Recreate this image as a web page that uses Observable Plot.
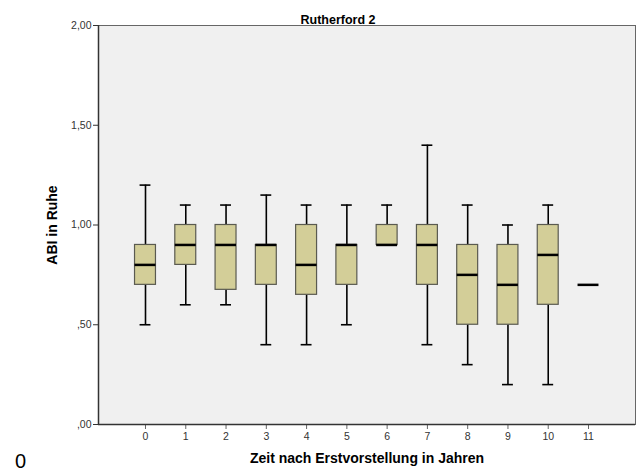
<!DOCTYPE html>
<html>
<head>
<meta charset="utf-8">
<script src="https://cdn.jsdelivr.net/npm/d3@7"></script>
<script src="https://cdn.jsdelivr.net/npm/@observablehq/plot@0.6"></script>
<style>
  html, body { margin: 0; padding: 0; background: #fff; }
  #wrap { position: relative; width: 641px; height: 471px; overflow: hidden; font-family: "Liberation Sans", Arial, sans-serif; }
  #corner { position: absolute; left: 15px; top: 451px; font-size: 20px; color: #000; font-family: "Liberation Sans", Arial, sans-serif; line-height: 1; }
</style>
</head>
<body>
<div id="wrap"><div id="corner">0</div></div>
<script>
const years       = [0, 1, 2, 3, 4, 5, 6, 7, 8, 9, 10, 11];
const whiskerLow  = [0.50, 0.60, 0.60, 0.40, 0.40, 0.50, 0.90, 0.40, 0.30, 0.20, 0.20, 0.70];
const q1          = [0.70, 0.80, 0.675, 0.70, 0.65, 0.70, 0.90, 0.70, 0.50, 0.50, 0.60, 0.70];
const median      = [0.80, 0.90, 0.90, 0.90, 0.80, 0.90, 0.90, 0.90, 0.75, 0.70, 0.85, 0.70];
const q3          = [0.90, 1.00, 1.00, 0.90, 1.00, 0.90, 1.00, 1.00, 0.90, 0.90, 1.00, 0.70];
const whiskerHigh = [1.20, 1.10, 1.10, 1.15, 1.10, 1.10, 1.10, 1.40, 1.10, 1.00, 1.10, 0.70];
const yTicks      = [0, 0.5, 1, 1.5, 2];

const data = years.map((t, i) => ({
  t, lo: whiskerLow[i], q1: q1[i], med: median[i], q3: q3[i], hi: whiskerHigh[i]
}));

const boxHalf = 0.26;
const capHalf = 0.135;
const fmtY = v => d3.format(".2f")(v).replace(".", ",").replace(/^0,/, ",");

const chart = Plot.plot({
  width: 641,
  height: 471,
  marginLeft: 98,
  marginRight: 6,
  marginTop: 25,
  marginBottom: 47,
  style: { fontFamily: "Liberation Sans, Arial, sans-serif", background: "transparent" },
  x: { domain: [-1.167, 12.167], ticks: years, tickFormat: d => String(d), tickSize: 5, tickPadding: 3, label: null },
  y: { domain: [0, 2], ticks: yTicks, tickFormat: fmtY, tickSize: 5, tickPadding: 2, label: null },
  marks: [
    Plot.frame({ fill: "#f0f0f0", stroke: "#666", strokeWidth: 1 }),
    Plot.axisX({ ticks: years, tickFormat: d => String(d), tickSize: 5, tickPadding: 3, fontSize: 10.5, fill: "#333", stroke: "#666" }),
    Plot.axisY({ ticks: yTicks, tickFormat: fmtY, tickSize: 5, tickPadding: 2, fontSize: 10.5, fill: "#333", stroke: "#333" }),
    Plot.ruleX([-1.167], { stroke: "#333", strokeWidth: 1.5 }),
    Plot.ruleY([0], { stroke: "#333", strokeWidth: 1.5 }),
    // whiskers
    Plot.ruleX(data.filter(d => d.hi > d.q3), { x: "t", y1: "q3", y2: "hi", stroke: "#000", strokeWidth: 1.6 }),
    Plot.ruleX(data.filter(d => d.lo < d.q1), { x: "t", y1: "lo", y2: "q1", stroke: "#000", strokeWidth: 1.6 }),
    Plot.ruleY(data.filter(d => d.hi > d.q3), { y: "hi", x1: d => d.t - capHalf, x2: d => d.t + capHalf, stroke: "#000", strokeWidth: 1.6 }),
    Plot.ruleY(data.filter(d => d.lo < d.q1), { y: "lo", x1: d => d.t - capHalf, x2: d => d.t + capHalf, stroke: "#000", strokeWidth: 1.6 }),
    // boxes
    Plot.rect(data.filter(d => d.q3 > d.q1), { x1: d => d.t - boxHalf, x2: d => d.t + boxHalf, y1: "q1", y2: "q3", fill: "#d3ce98", stroke: "#5a5a50", strokeWidth: 1.2 }),
    // medians
    Plot.ruleY(data, { y: "med", x1: d => d.t - boxHalf, x2: d => d.t + boxHalf, stroke: "#000", strokeWidth: 2.5 }),
    // titles
    Plot.text(["Rutherford 2"], { frameAnchor: "top", dx: -29, dy: -10, fontWeight: "bold", fontSize: 12.5, fill: "#000" }),
    Plot.text(["ABI in Ruhe"], { frameAnchor: "left", textAnchor: "middle", dx: -46, rotate: -90, fontWeight: "bold", fontSize: 14, fill: "#000" }),
    Plot.text(["Zeit nach Erstvorstellung in Jahren"], { frameAnchor: "bottom", dy: 38, fontWeight: "bold", fontSize: 14, fill: "#000" })
  ]
});
chart.style.position = "absolute";
chart.style.left = "0px";
chart.style.top = "0px";
document.getElementById("wrap").appendChild(chart);
</script>
</body>
</html>
